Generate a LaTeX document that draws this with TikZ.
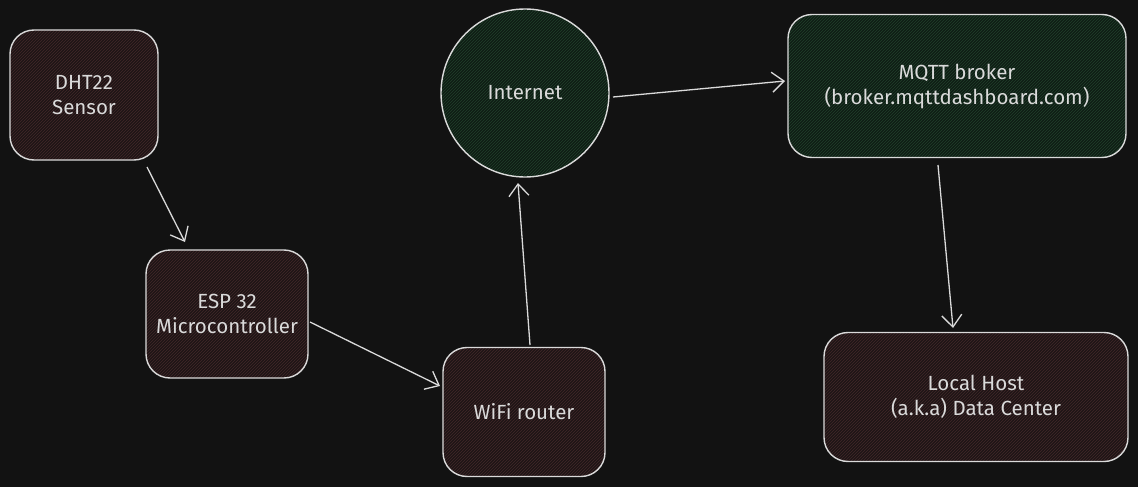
\documentclass[tikz,border=0pt]{standalone}
\usepackage{fontspec}
\setmainfont{Fira Sans}
\usetikzlibrary{arrows.meta,patterns}
\definecolor{bg}{HTML}{121212}
\definecolor{ink}{HTML}{DADADA}
\definecolor{redfill}{HTML}{1E1516}
\definecolor{redhatch}{HTML}{422829}
\definecolor{greenfill}{HTML}{0F1D15}
\definecolor{greenhatch}{HTML}{21402A}
\tikzset{
  box/.style={draw=ink, line width=1.4pt, rounded corners=24pt, text=ink,
    align=center, font=\fontsize{20.5}{25}\selectfont, inner sep=0pt},
  redbox/.style={box, preaction={fill=redfill}, pattern=north east lines, pattern color=redhatch},
  greenbox/.style={box, preaction={fill=greenfill}, pattern=north east lines, pattern color=greenhatch},
  conn/.style={draw=ink, line width=1.3pt, -{Straight Barb[length=12pt,width=20pt,line width=1.3pt]}},
}
\begin{document}
\begin{tikzpicture}[x=1pt,y=-1pt]
\fill[bg] (0,0) rectangle (1138,487);
\useasboundingbox (0,0) rectangle (1138,487);
\node[redbox, minimum width=148pt, minimum height=130pt] (dht) at (84,95) {DHT22\\Sensor};
\node[redbox, minimum width=162pt, minimum height=128pt] (esp) at (227,314) {ESP 32\\Microcontroller};
\node[redbox, minimum width=162pt, minimum height=129pt] (wifi) at (524,412) {WiFi router};
\node[greenbox, circle, minimum size=168pt, rounded corners=0pt] (inet) at (525,93) {Internet};
\node[greenbox, minimum width=338pt, minimum height=143pt] (mqtt) at (957,86) {MQTT broker\\(broker.mqttdashboard.com)};
\node[redbox, minimum width=304pt, minimum height=129pt] (local) at (976,397) {Local Host\\(a.k.a) Data Center};
\coordinate (a1) at (147,167); \coordinate (a2) at (185,242);
\coordinate (b1) at (310,322); \coordinate (b2) at (440,386);
\coordinate (c1) at (530,345); \coordinate (c2) at (518,183);
\coordinate (d1) at (613,97); \coordinate (d2) at (785,81);
\coordinate (e1) at (938,165); \coordinate (e2) at (953,328);
\draw[conn] (a1) -- (a2);
\draw[conn] (b1) -- (b2);
\draw[conn] (c1) -- (c2);
\draw[conn] (d1) -- (d2);
\draw[conn] (e1) -- (e2);
\end{tikzpicture}
\end{document}
